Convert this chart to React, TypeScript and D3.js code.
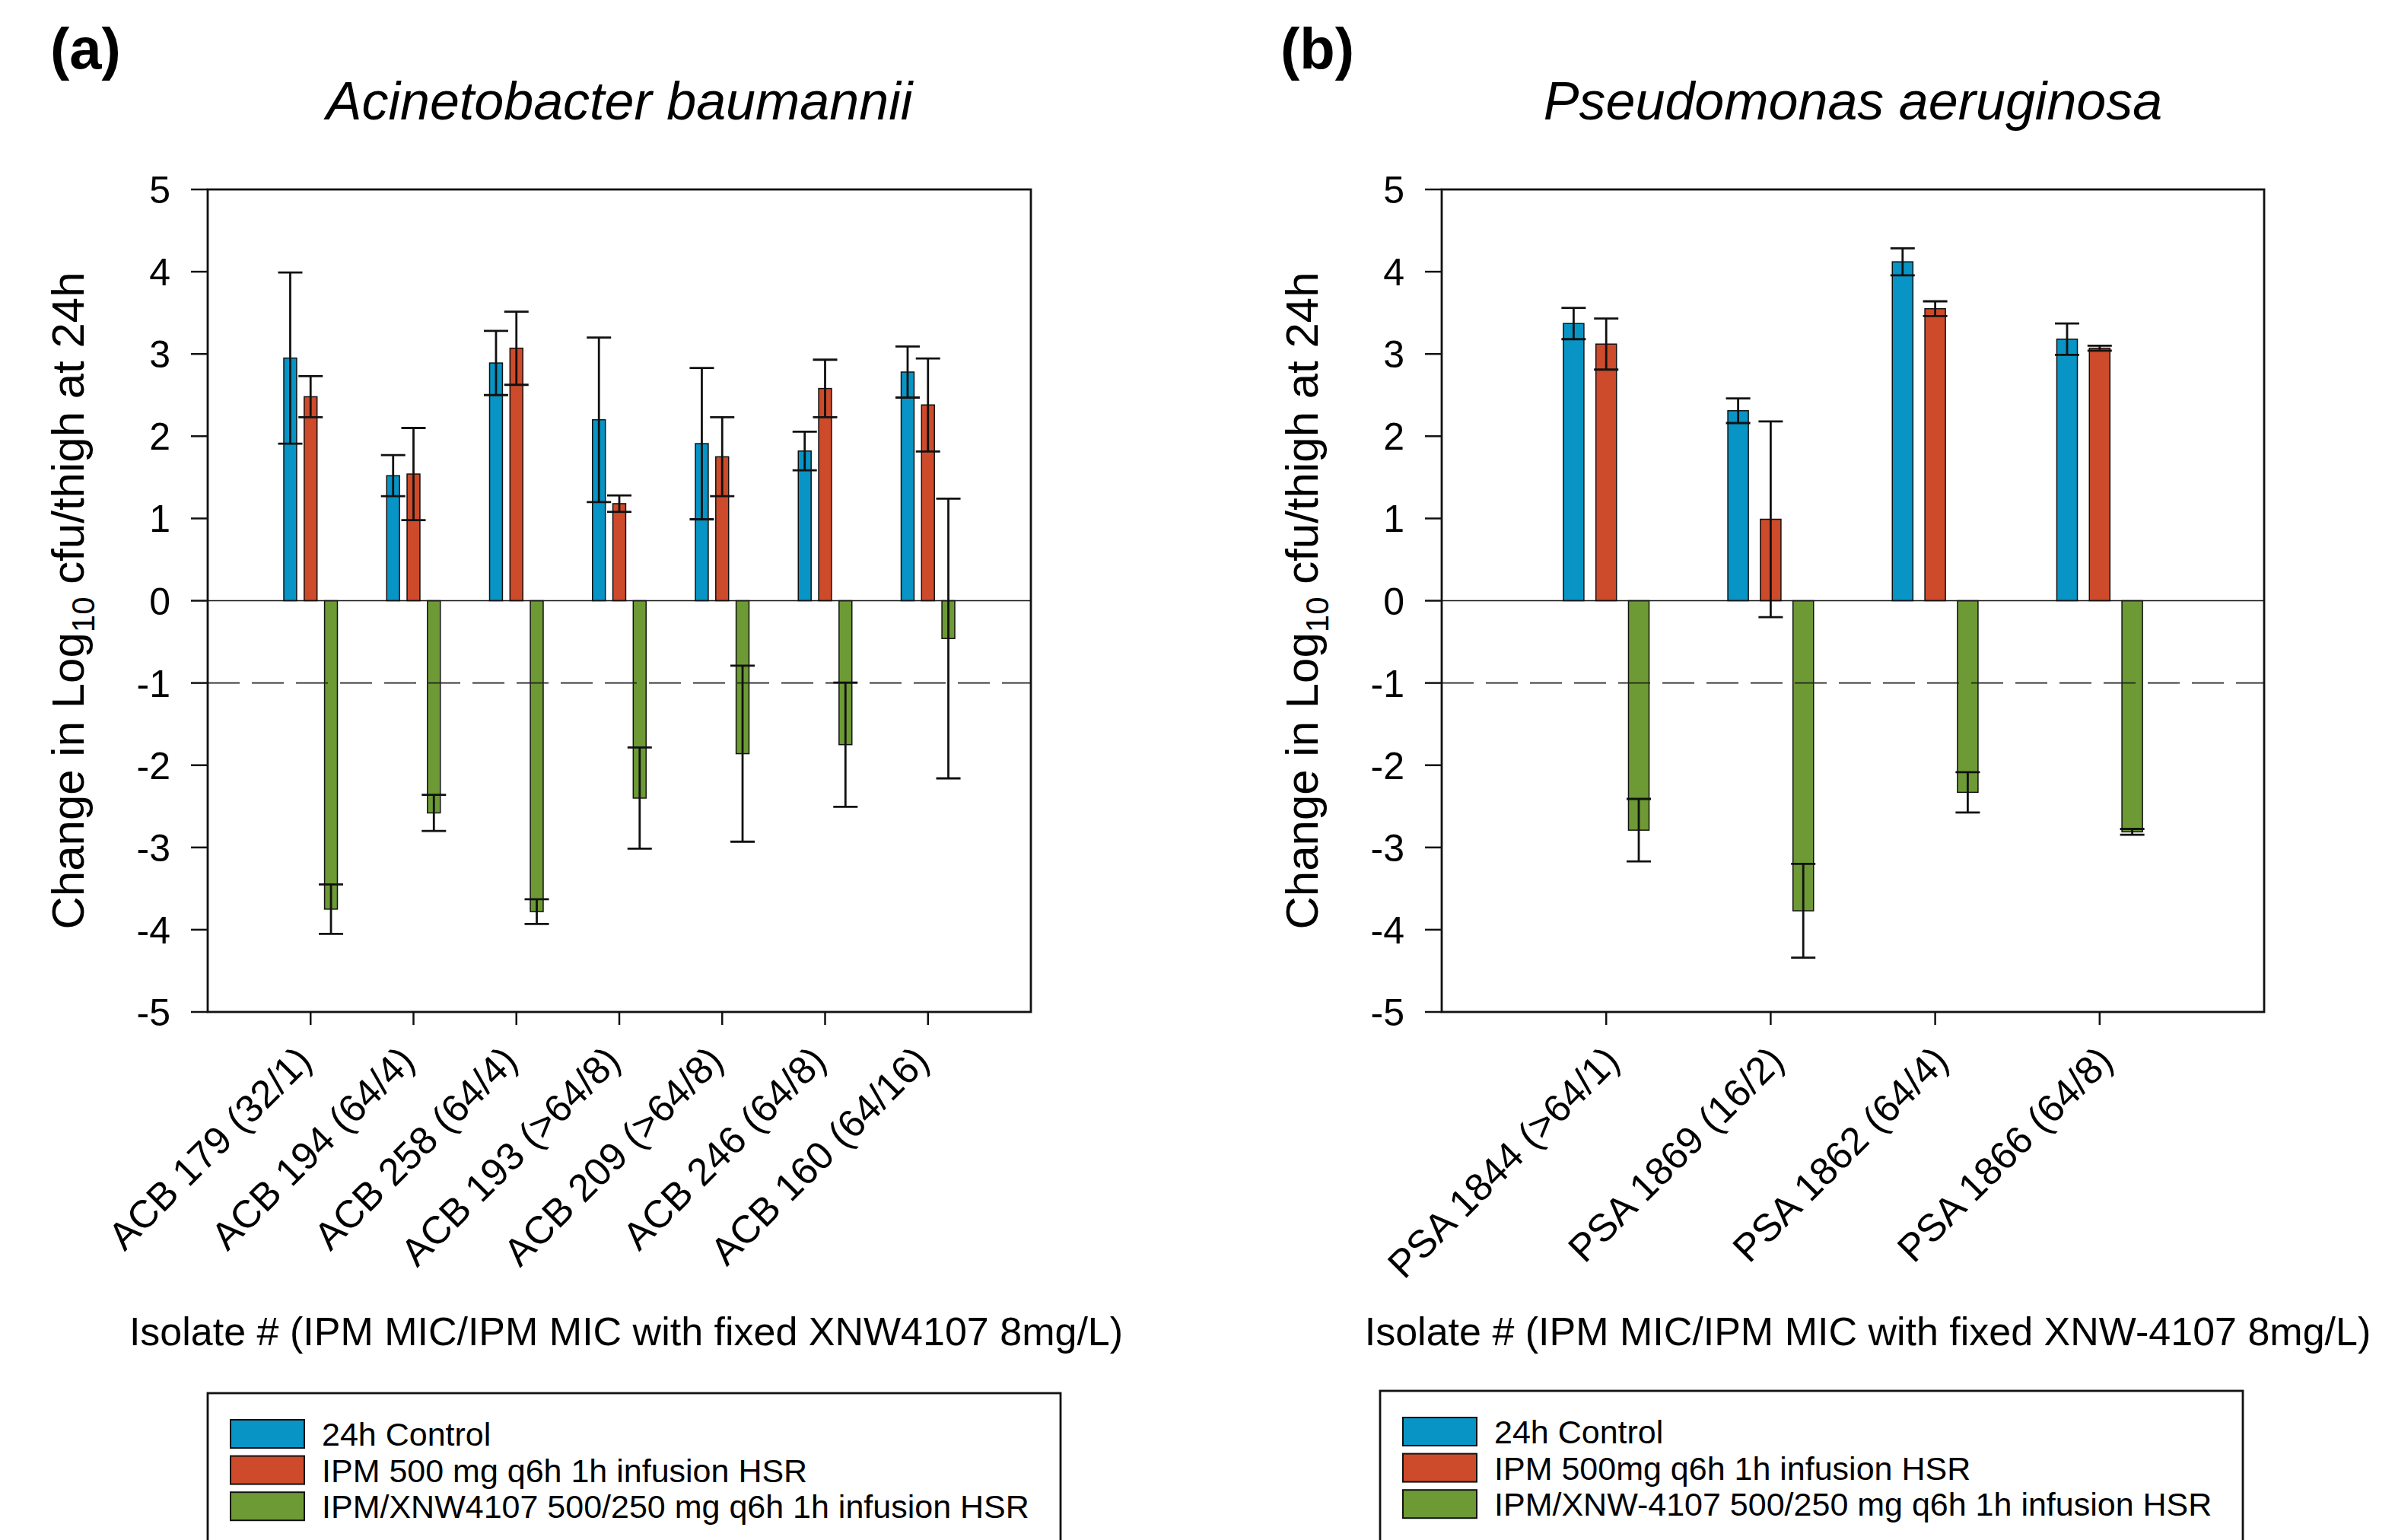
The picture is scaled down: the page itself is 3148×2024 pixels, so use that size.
import * as d3 from "d3";

// ---- data ----
const acbIsolates = [
    "ACB 179 (32/1)",
    "ACB 194 (64/4)",
    "ACB 258 (64/4)",
    "ACB 193 (>64/8)",
    "ACB 209 (>64/8)",
    "ACB 246 (64/8)",
    "ACB 160 (64/16)",
];
const acbControl = [2.95, 1.52, 2.89, 2.2, 1.91, 1.82, 2.78];
const acbControlErr = [1.04, 0.25, 0.39, 1.0, 0.92, 0.235, 0.31];
const acbIpm = [2.48, 1.54, 3.07, 1.18, 1.75, 2.58, 2.38];
const acbIpmErr = [0.25, 0.56, 0.445, 0.1, 0.48, 0.35, 0.565];
const acbCombo = [-3.75, -2.58, -3.78, -2.4, -1.86, -1.75, -0.46];
const acbComboErr = [0.3, 0.22, 0.15, 0.615, 1.07, 0.755, 1.7];

const psaIsolates = [
    "PSA 1844 (>64/1)",
    "PSA 1869 (16/2)",
    "PSA 1862 (64/4)",
    "PSA 1866 (64/8)",
];
const psaControl = [3.37, 2.31, 4.12, 3.18];
const psaControlErr = [0.19, 0.15, 0.165, 0.19];
const psaIpm = [3.12, 0.99, 3.55, 3.07];
const psaIpmErr = [0.31, 1.19, 0.09, 0.03];
const psaCombo = [-2.79, -3.77, -2.33, -2.81];
const psaComboErr = [0.38, 0.57, 0.245, 0.035];

const acbLegend = [
    "24h Control",
    "IPM 500 mg q6h 1h infusion HSR",
    "IPM/XNW4107 500/250 mg q6h 1h infusion HSR",
];
const psaLegend = [
    "24h Control",
    "IPM 500mg q6h 1h infusion HSR",
    "IPM/XNW-4107 500/250 mg q6h 1h infusion HSR",
];

const yTicks = d3.range(-5, 6);
const colors = ["#0894C4", "#CD4B2B", "#6D9A34"];
const FONT = "'Liberation Sans', Arial, Helvetica, sans-serif";

interface PanelProps {
    left: number;
    right: number;
    tag: string;
    tagX: number;
    title: string;
    categories: string[];
    series: number[][];
    errors: number[][];
    labelDx: number;
    xTitle: string;
    xTitleX: number;
    legend: string[];
    legendX: number;
    legendW: number;
    legendY: number;
}

function Panel({
    left,
    right,
    tag,
    tagX,
    title,
    categories,
    series,
    errors,
    labelDx,
    xTitle,
    xTitleX,
    legend,
    legendX,
    legendW,
    legendY,
}: PanelProps) {
    const top = 249;
    const bottom = 1330;
    const n = categories.length;
    const x = d3.scaleLinear([0, n + 1], [left, right]);
    const y = d3.scaleLinear([-5, 5], [bottom, top]);
    const step = x(1) - x(0);
    const bw = step * 0.125;
    const off = step * 0.198;
    const cap = 16;
    const cx = (left + right) / 2;

    return (
        <g fontFamily={FONT}>
            <text x={tagX} y={90} fontSize={76} fontWeight="bold">
                {tag}
            </text>
            <text x={cx} y={157} fontSize={70} fontStyle="italic" textAnchor="middle">
                {title}
            </text>

            {/* bars */}
            {series.map((s, si) =>
                s.map((v, i) => {
                    const bx = x(i + 1) + (si - 1) * off;
                    return (
                        <rect
                            key={`b${si}-${i}`}
                            x={bx - bw / 2}
                            y={Math.min(y(v), y(0))}
                            width={bw}
                            height={Math.abs(y(v) - y(0))}
                            fill={colors[si]}
                            stroke="#111"
                            strokeWidth={1.5}
                        />
                    );
                })
            )}

            {/* zero and -1 reference lines */}
            <line x1={left} x2={right} y1={y(0)} y2={y(0)} stroke="#111" strokeWidth={1.6} />
            <line
                x1={left}
                x2={right}
                y1={y(-1)}
                y2={y(-1)}
                stroke="#222"
                strokeWidth={1.6}
                strokeDasharray="42 16"
            />

            {/* error bars */}
            {series.map((s, si) =>
                s.map((v, i) => {
                    const ex = x(i + 1) + (si - 1) * off;
                    const e = errors[si][i];
                    const y1 = y(v + e);
                    const y2 = y(v - e);
                    return (
                        <g key={`e${si}-${i}`} stroke="#111" strokeWidth={2.8}>
                            <line x1={ex} x2={ex} y1={y1} y2={y2} />
                            <line x1={ex - cap} x2={ex + cap} y1={y1} y2={y1} />
                            <line x1={ex - cap} x2={ex + cap} y1={y2} y2={y2} />
                        </g>
                    );
                })
            )}

            {/* frame */}
            <rect
                x={left}
                y={top}
                width={right - left}
                height={bottom - top}
                fill="none"
                stroke="#111"
                strokeWidth={2.8}
            />

            {/* y axis */}
            {yTicks.map((t) => (
                <g key={`y${t}`}>
                    <line x1={left - 22} x2={left} y1={y(t)} y2={y(t)} stroke="#111" strokeWidth={2.5} />
                    <text x={left - 49} y={y(t) + 18} fontSize={50} textAnchor="end">
                        {t}
                    </text>
                </g>
            ))}
            <text
                transform={`translate(${left - 163},${(top + bottom) / 2}) rotate(-90)`}
                fontSize={60}
                textAnchor="middle"
            >
                Change in Log
                <tspan fontSize={42} dy={14}>
                    10
                </tspan>
                <tspan dy={-14}> cfu/thigh at 24h</tspan>
            </text>

            {/* x axis */}
            {categories.map((c, i) => (
                <g key={`x${i}`}>
                    <line
                        x1={x(i + 1)}
                        x2={x(i + 1)}
                        y1={bottom}
                        y2={bottom + 17}
                        stroke="#111"
                        strokeWidth={2.5}
                    />
                    <text
                        transform={`translate(${x(i + 1) + labelDx},${bottom + 67}) rotate(-45)`}
                        fontSize={51}
                        textAnchor="end"
                    >
                        {c}
                    </text>
                </g>
            ))}
            <text x={xTitleX} y={1768} fontSize={52} textAnchor="middle">
                {xTitle}
            </text>

            {/* legend */}
            <rect
                x={legendX}
                y={legendY}
                width={legendW}
                height={260}
                fill="none"
                stroke="#111"
                strokeWidth={2.8}
            />
            {legend.map((l, i) => {
                const sy = legendY + 35 + i * 47.6;
                return (
                    <g key={`l${i}`}>
                        <rect
                            x={legendX + 30}
                            y={sy}
                            width={97}
                            height={37}
                            fill={colors[i]}
                            stroke="#111"
                            strokeWidth={2}
                        />
                        <text x={legendX + 150} y={sy + 34} fontSize={43}>
                            {l}
                        </text>
                    </g>
                );
            })}
        </g>
    );
}

export default function App() {
    return (
        <div style={{ position: "absolute", left: 0, top: 0 }}>
            <svg width={3148} height={2024} style={{ display: "block", background: "#fff" }}>
                <Panel
                    left={273}
                    right={1355}
                    tag="(a)"
                    tagX={66}
                    title="Acinetobacter baumannii"
                    categories={acbIsolates}
                    series={[acbControl, acbIpm, acbCombo]}
                    errors={[acbControlErr, acbIpmErr, acbComboErr]}
                    labelDx={4}
                    xTitle="Isolate # (IPM MIC/IPM MIC with fixed XNW4107 8mg/L)"
                    xTitleX={823}
                    legend={acbLegend}
                    legendX={273}
                    legendW={1121}
                    legendY={1831}
                />
                <Panel
                    left={1895}
                    right={2976}
                    tag="(b)"
                    tagX={1683}
                    title="Pseudomonas aeruginosa"
                    categories={psaIsolates}
                    series={[psaControl, psaIpm, psaCombo]}
                    errors={[psaControlErr, psaIpmErr, psaComboErr]}
                    labelDx={20}
                    xTitle="Isolate # (IPM MIC/IPM MIC with fixed XNW-4107 8mg/L)"
                    xTitleX={2455}
                    legend={psaLegend}
                    legendX={1814}
                    legendW={1134}
                    legendY={1828}
                />
            </svg>
        </div>
    );
}
